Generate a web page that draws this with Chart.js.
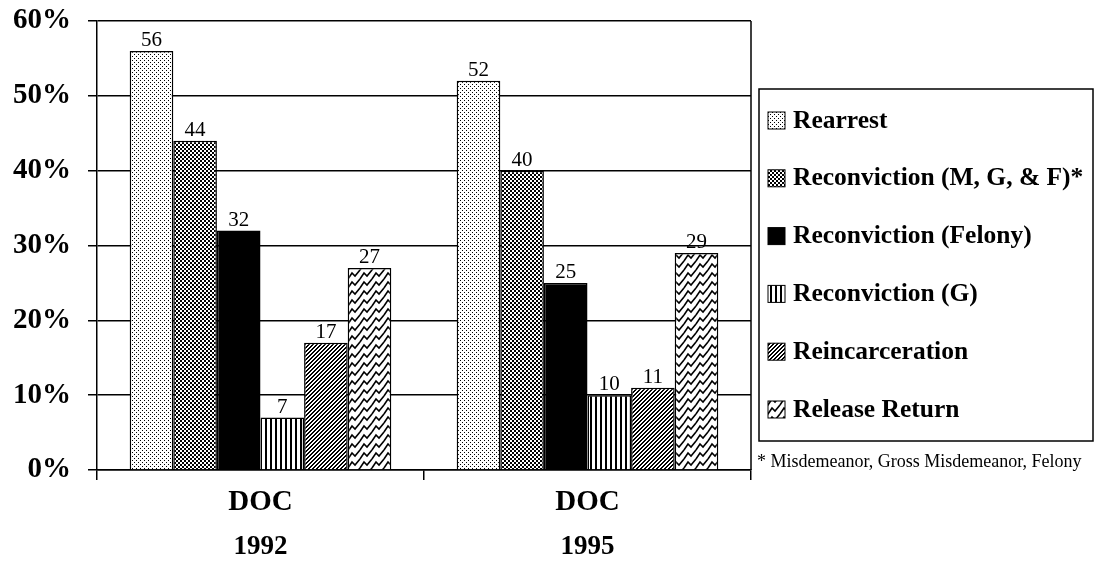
<!DOCTYPE html>
<html>
<head>
<meta charset="utf-8">
<script src="https://cdn.jsdelivr.net/npm/chart.js@4.4.1/dist/chart.umd.min.js"></script>
<style>
  html, body { margin: 0; padding: 0; background: #fff; }
  #wrap { width: 1095px; height: 569px; }
</style>
</head>
<body>
<div id="wrap"><canvas id="chart" width="1095" height="569"></canvas></div>
<script>
// Recidivism rates, DOC release cohorts
const groupLabels = ['DOC', 'DOC'];
const years = ['1992', '1995'];
const seriesNames = [
    'Rearrest',
    'Reconviction (M, G, & F)*',
    'Reconviction (Felony)',
    'Reconviction (G)',
    'Reincarceration',
    'Release Return',
];
const rearrest = [56, 52];
const reconvictionAll = [44, 40];
const reconvictionFelony = [32, 25];
const reconvictionG = [7, 10];
const reincarceration = [17, 11];
const releaseReturn = [27, 29];
const yTicks = [0, 10, 20, 30, 40, 50, 60];
const footnote = '* Misdemeanor, Gross Misdemeanor, Felony';

const SERIF = '"Liberation Serif", "Times New Roman", serif';

function makePattern(w, h, draw) {
    const c = document.createElement('canvas');
    c.width = w;
    c.height = h;
    const g = c.getContext('2d');
    g.fillStyle = '#fff';
    g.fillRect(0, 0, w, h);
    g.fillStyle = '#000';
    g.strokeStyle = '#000';
    draw(g, w, h);
    return g.createPattern(c, 'repeat');
}

const patterns = [
    // sparse stipple
    makePattern(4, 4, g => { g.fillRect(0, 0, 1, 1); g.fillRect(2, 2, 1, 1); }),
    // dense checker
    makePattern(4, 4, g => { g.fillRect(0, 0, 2, 2); g.fillRect(2, 2, 2, 2); }),
    '#000',
    // vertical stripes
    makePattern(5, 1, g => { g.fillRect(0, 0, 2, 1); }),
    // diagonal "/"
    makePattern(4, 4, g => {
        for (let x = 0; x < 4; x++) for (let y = 0; y < 4; y++) {
            const k = (x + y) % 4;
            if (k === 0 || k === 1) g.fillRect(x, y, 1, 1);
        }
    }),
    // weave
    makePattern(12, 9, g => {
        g.lineWidth = 1.6;
        for (const dx of [-12, 0, 12]) for (const dy of [-9, 0, 9]) {
            g.beginPath();
            g.moveTo(dx + 0, dy + 9);
            g.lineTo(dx + 4, dy + 3);
            g.lineTo(dx + 7, dy + 6);
            g.lineTo(dx + 12, dy + 0);
            g.stroke();
        }
    }),
];

const seriesValues = [rearrest, reconvictionAll, reconvictionFelony, reconvictionG, reincarceration, releaseReturn];

const datasets = seriesNames.map((name, i) => ({
    label: name,
    data: seriesValues[i],
    backgroundColor: patterns[i],
    borderColor: '#000',
    borderWidth: 1.5,
    borderSkipped: 'bottom',
    categoryPercentage: 0.8,
    barPercentage: 1.0,
    xAxisID: 'x',
}));

const frame = {
    id: 'frame',
    beforeDatasetsDraw(chart) {
        const { ctx, chartArea: a } = chart;
        ctx.save();
        ctx.strokeStyle = '#000';
        ctx.lineWidth = 1.5;
        ctx.beginPath();
        ctx.moveTo(a.right, a.top);
        ctx.lineTo(a.right, a.bottom);
        ctx.stroke();
        ctx.restore();
    },
};

const valueLabels = {
    id: 'valueLabels',
    afterDatasetsDraw(chart) {
        const { ctx } = chart;
        ctx.save();
        ctx.font = '21px ' + SERIF;
        ctx.fillStyle = '#000';
        ctx.textAlign = 'center';
        ctx.textBaseline = 'alphabetic';
        chart.data.datasets.forEach((ds, di) => {
            chart.getDatasetMeta(di).data.forEach((bar, i) => {
                ctx.fillText(String(ds.data[i]), bar.x, bar.y - 5);
            });
        });
        ctx.restore();
    },
};

const boxLegend = {
    id: 'boxLegend',
    afterDraw(chart) {
        const { ctx, chartArea: a } = chart;
        const left = a.right + 8;
        const top = 89;
        const bottom = 441;
        ctx.save();
        ctx.strokeStyle = '#000';
        ctx.lineWidth = 1.5;
        ctx.strokeRect(left, top, chart.width - 2 - left, bottom - top);
        const step = 57.8;
        chart.data.datasets.forEach((ds, i) => {
            const cy = 120 + i * step;
            ctx.fillStyle = ds.backgroundColor;
            ctx.fillRect(left + 9, cy - 8, 17, 17);
            ctx.lineWidth = 1;
            ctx.strokeRect(left + 9, cy - 8, 17, 17);
            ctx.fillStyle = '#000';
            ctx.font = 'bold 25.5px ' + SERIF;
            ctx.textAlign = 'left';
            ctx.textBaseline = 'middle';
            ctx.fillText(ds.label, left + 34, cy + 1);
        });
        ctx.font = '18px ' + SERIF;
        ctx.textBaseline = 'middle';
        ctx.fillText(footnote, left - 2, 462);
        ctx.restore();
    },
};

new Chart(document.getElementById('chart').getContext('2d'), {
    type: 'bar',
    data: { labels: groupLabels, datasets },
    plugins: [frame, valueLabels, boxLegend],
    options: {
        responsive: false,
        animation: false,
        layout: { padding: { top: 21, right: 344, bottom: 0, left: 0 } },
        plugins: {
            legend: { display: false },
            tooltip: { enabled: false },
        },
        scales: {
            x: {
                type: 'category',
                offset: true,
                afterFit: s => { s.height = 50; },
                grid: { display: true, offset: true, drawOnChartArea: false, color: '#000', lineWidth: 1.5, tickLength: 10 },
                border: { display: true, color: '#000', width: 1.5 },
                ticks: { color: '#000', padding: 5, font: { family: SERIF, size: 29, weight: 'bold' } },
            },
            x2: {
                type: 'category',
                labels: years,
                position: 'bottom',
                offset: true,
                afterFit: s => { s.height = 49; },
                grid: { display: false },
                border: { display: false },
                ticks: { color: '#000', padding: 3, font: { family: SERIF, size: 27, weight: 'bold' } },
            },
            y: {
                min: 0,
                max: 60,
                afterBuildTicks: s => { s.ticks = yTicks.map(v => ({ value: v })); },
                afterFit: s => { s.width = 97; s.paddingTop = 0; s.paddingBottom = 0; },
                grid: { color: '#000', lineWidth: 1.5, tickLength: 9 },
                border: { display: true, color: '#000', width: 1.5 },
                ticks: {
                    color: '#000',
                    padding: 17,
                    font: { family: SERIF, size: 29, weight: 'bold' },
                    callback: v => v + '%',
                },
            },
        },
    },
});
</script>
</body>
</html>
